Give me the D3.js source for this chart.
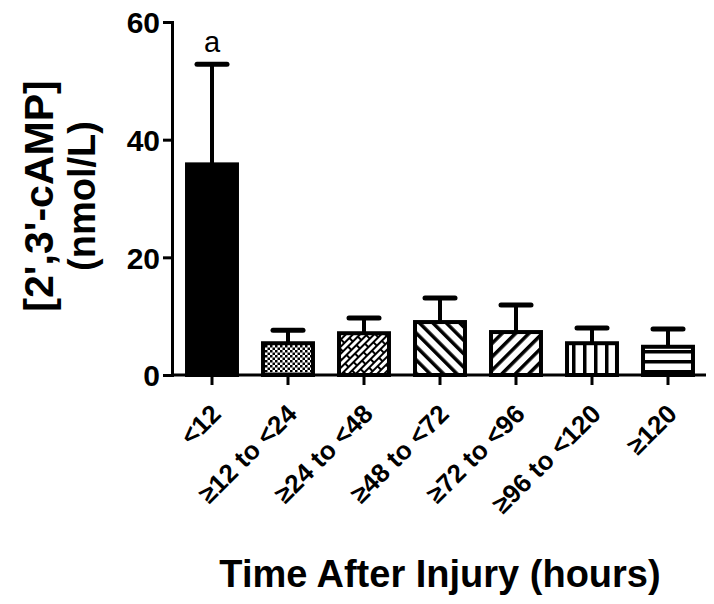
<!DOCTYPE html>
<html>
<head>
<meta charset="utf-8">
<script src="https://cdn.jsdelivr.net/npm/d3@7"></script>
<style>
  body { margin: 0; background: #fff; }
  svg { display: block; font-family: 'Liberation Sans', Arial, sans-serif; }
</style>
</head>
<body>
<div id="chart"></div>
<script>
const categories = ['<12', '≥12 to <24', '≥24 to <48', '≥48 to <72', '≥72 to <96', '≥96 to <120', '≥120']
const means = [35.8, 5.4, 7.1, 9.0, 7.3, 5.4, 4.8]
const errors = [17.0, 2.2, 2.6, 4.1, 4.6, 2.6, 3.0]
const fills = ['solid', 'checker', 'brick', 'back', 'fwd', 'vert', 'horiz']
const yTicks = [0, 20, 40, 60]
const letters = ['a', '', '', '', '', '', '']

const width = 714
const height = 604

const svg = d3.select('#chart').append('svg')
  .attr('width', width)
  .attr('height', height)

const defs = svg.append('defs')

// fill patterns
const checker = defs.append('pattern').attr('id', 'checker')
  .attr('patternUnits', 'userSpaceOnUse').attr('width', 5).attr('height', 5)
checker.append('rect').attr('width', 5).attr('height', 5).attr('fill', '#fff')
checker.append('rect').attr('width', 2.5).attr('height', 2.5).attr('fill', '#000')
checker.append('rect').attr('x', 2.5).attr('y', 2.5).attr('width', 2.5).attr('height', 2.5).attr('fill', '#000')

const brick = defs.append('pattern').attr('id', 'brick')
  .attr('patternUnits', 'userSpaceOnUse').attr('width', 14).attr('height', 10)
  .attr('patternTransform', 'rotate(-45)')
brick.append('rect').attr('width', 14).attr('height', 10).attr('fill', '#fff')
brick.append('rect').attr('width', 14).attr('height', 2).attr('fill', '#000')
brick.append('rect').attr('width', 2).attr('height', 5).attr('fill', '#000')
brick.append('rect').attr('x', 7).attr('y', 5).attr('width', 2).attr('height', 5).attr('fill', '#000')
brick.append('rect').attr('y', 5).attr('width', 14).attr('height', 2).attr('fill', '#000')

function linePattern (id, size, thick, angle) {
  const p = defs.append('pattern').attr('id', id)
    .attr('patternUnits', 'userSpaceOnUse').attr('width', size).attr('height', size)
    .attr('patternTransform', `rotate(${angle})`)
  p.append('rect').attr('width', size).attr('height', size).attr('fill', '#fff')
  p.append('rect').attr('width', thick).attr('height', size).attr('fill', '#000')
}
linePattern('back', 9.5, 3.5, -45)
linePattern('fwd', 9.5, 3.5, 45)
linePattern('vert', 11, 3.5, 0)
linePattern('horiz', 10, 3.5, 90)

const x = d3.scaleBand()
  .domain(categories)
  .range([174, 706])
  .paddingInner(0.29)
  .paddingOuter(0.145)

const y = d3.scaleLinear()
  .domain([0, 60])
  .range([375, 22])

const data = categories.map((c, i) => ({ c, mean: means[i], err: errors[i], fill: fills[i], letter: letters[i] }))

// error bars
const eb = svg.append('g')
eb.selectAll('line.stem')
  .data(data)
  .join('line')
  .attr('class', 'stem')
  .attr('x1', d => x(d.c) + x.bandwidth() / 2)
  .attr('x2', d => x(d.c) + x.bandwidth() / 2)
  .attr('y1', d => y(d.mean))
  .attr('y2', d => y(d.mean + d.err))
  .attr('stroke', '#000')
  .attr('stroke-width', 4)
eb.selectAll('line.cap')
  .data(data)
  .join('line')
  .attr('class', 'cap')
  .attr('x1', d => x(d.c) + x.bandwidth() / 2 - 15)
  .attr('x2', d => x(d.c) + x.bandwidth() / 2 + 15)
  .attr('y1', d => y(d.mean + d.err))
  .attr('y2', d => y(d.mean + d.err))
  .attr('stroke', '#000')
  .attr('stroke-width', 5)
  .attr('stroke-linecap', 'round')

// bars
svg.append('g').selectAll('rect')
  .data(data)
  .join('rect')
  .attr('x', d => x(d.c) + 2)
  .attr('y', d => y(d.mean))
  .attr('width', x.bandwidth() - 4)
  .attr('height', d => y(0) - y(d.mean))
  .attr('fill', d => d.fill === 'solid' ? '#000' : `url(#${d.fill})`)
  .attr('stroke', '#000')
  .attr('stroke-width', 4)

// significance letters
svg.append('g').selectAll('text')
  .data(data)
  .join('text')
  .attr('x', d => x(d.c) + x.bandwidth() / 2)
  .attr('y', d => y(d.mean + d.err) - 12)
  .attr('text-anchor', 'middle')
  .attr('font-size', 29)
  .text(d => d.letter)

// y axis
const yAxis = svg.append('g')
  .attr('transform', 'translate(172,0)')
  .call(d3.axisLeft(y).tickValues(yTicks).tickSize(9).tickPadding(3))
yAxis.select('.domain').attr('stroke-width', 3)
yAxis.selectAll('.tick line').attr('stroke-width', 3)
yAxis.selectAll('.tick text')
  .attr('font-size', 30)
  .attr('font-weight', 'bold')
  .attr('fill', '#000')
  .attr('dy', '0.36em')

// x axis
const xAxis = svg.append('g')
  .attr('transform', 'translate(0,375)')
  .call(d3.axisBottom(x).tickSize(10).tickSizeOuter(0))
xAxis.select('.domain').attr('stroke-width', 3).attr('d', 'M172,0H706')
xAxis.selectAll('.tick line').attr('stroke-width', 3)
xAxis.selectAll('.tick text')
  .attr('font-size', 26)
  .attr('font-weight', 'bold')
  .attr('fill', '#000')
  .attr('text-anchor', 'end')
  .attr('transform', 'translate(4,34) rotate(-45)')
  .attr('dy', '0.35em')
  .attr('y', 0)

// axis titles
svg.append('text')
  .attr('transform', 'translate(53,196) rotate(-90)')
  .attr('text-anchor', 'middle')
  .attr('font-size', 41)
  .attr('font-weight', 'bold')
  .text("[2',3'-cAMP]")
svg.append('text')
  .attr('transform', 'translate(95,196) rotate(-90)')
  .attr('text-anchor', 'middle')
  .attr('font-size', 38)
  .attr('font-weight', 'bold')
  .text('(nmol/L)')

svg.append('text')
  .attr('x', 440)
  .attr('y', 587)
  .attr('text-anchor', 'middle')
  .attr('font-size', 38)
  .attr('font-weight', 'bold')
  .text('Time After Injury (hours)')
</script>
</body>
</html>
